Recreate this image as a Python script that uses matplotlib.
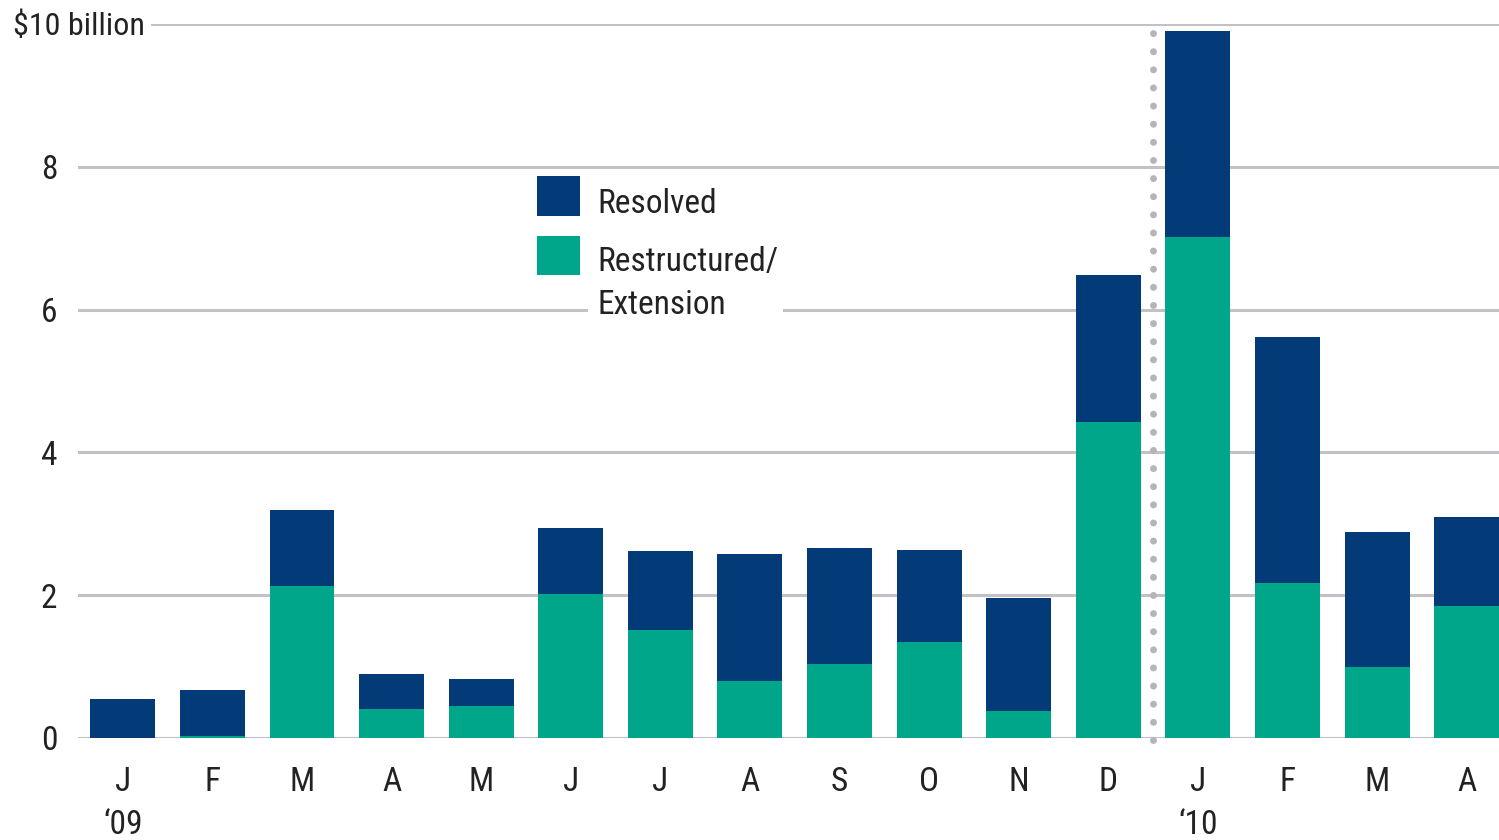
import matplotlib
matplotlib.use("Agg")
import matplotlib.pyplot as plt
import matplotlib.transforms as mtransforms
from matplotlib.patches import Rectangle
import numpy as np

plt.rcParams['font.family'] = ['Roboto Condensed', 'Archivo Narrow', 'DejaVu Sans']

# data (billions of dollars)
months = ['J', 'F', 'M', 'A', 'M', 'J', 'J', 'A', 'S', 'O', 'N', 'D', 'J', 'F', 'M', 'A']
years = {0: '\u201809', 12: '\u201810'}
restructured = [0.0, 0.03, 2.13, 0.41, 0.45, 2.02, 1.51, 0.80, 1.04, 1.34, 0.38, 4.43, 7.02, 2.17, 0.99, 1.85]
resolved = [0.55, 0.64, 1.06, 0.49, 0.38, 0.92, 1.11, 1.78, 1.62, 1.29, 1.58, 2.05, 2.88, 3.45, 1.90, 1.25]
yticks = [0, 2, 4, 6, 8]

navy = '#023b78'
teal = '#00a68a'
grid_c = '#c2c2c6'
txt_c = '#222222'
fs = 24

W, H = 1499, 840
fx = lambda px: px / W
fy = lambda py: 1 - py / H

fig = plt.figure(figsize=(W / 100, H / 100), dpi=100)
ax = fig.add_axes([fx(78), fy(738), fx(1499) - fx(78), fy(24) - fy(738)])

x = np.arange(len(months))
ax.bar(x, restructured, width=0.725, color=teal, zorder=3)
ax.bar(x, resolved, width=0.725, bottom=restructured, color=navy, zorder=3)

# gridlines
for v in yticks:
    ax.axhline(v, color=grid_c, lw=2.2, zorder=1)
ax.axhline(10, xmin=(152 - 78) / (1499 - 78), color=grid_c, lw=2.2, zorder=1)

# dotted separator between '09 and '10
ax.plot([11.5, 11.5], [-0.03, 9.9], color='#b4b4ba', lw=5, linestyle=(0, (0.01, 2.6)),
        dash_capstyle='round', zorder=2, clip_on=False)

ax.set_xlim(-0.5, 15.36)
ax.set_ylim(0, 10)
for s in ax.spines.values():
    s.set_visible(False)

ax.set_yticks(yticks)
ax.set_yticklabels([str(v) for v in yticks])
labels = [m + ('\n' + years[i] if i in years else '') for i, m in enumerate(months)]
ax.set_xticks(x)
ax.set_xticklabels(labels, linespacing=1.45)
ax.tick_params(axis='both', length=0, labelsize=fs, labelcolor=txt_c)
ax.tick_params(axis='y', pad=15)
ax.tick_params(axis='x', pad=20)

tr = mtransforms.blended_transform_factory(fig.transFigure, ax.transData)
ax.text(fx(13), 9.97, '$10 billion', transform=tr, ha='left', va='center',
        fontsize=23, color=txt_c)

# legend
fig.patches.append(Rectangle((fx(588), fy(322)), fx(783) - fx(588), fy(172) - fy(322),
                             transform=fig.transFigure, facecolor='white', edgecolor='none', zorder=1))
fig.patches.append(Rectangle((fx(537), fy(216)), fx(580) - fx(537), fy(176) - fy(216),
                             transform=fig.transFigure, facecolor=navy, edgecolor='none', zorder=2))
fig.patches.append(Rectangle((fx(537), fy(275)), fx(580) - fx(537), fy(236) - fy(275),
                             transform=fig.transFigure, facecolor=teal, edgecolor='none', zorder=2))
fig.text(fx(597), fy(204), 'Resolved', ha='left', va='center', fontsize=fs, color=txt_c, zorder=3)
fig.text(fx(597), fy(262), 'Restructured/', ha='left', va='center', fontsize=fs, color=txt_c, zorder=3)
fig.text(fx(597), fy(305), 'Extension', ha='left', va='center', fontsize=fs, color=txt_c, zorder=3)

fig.savefig('out.png', dpi=100, facecolor='white')
